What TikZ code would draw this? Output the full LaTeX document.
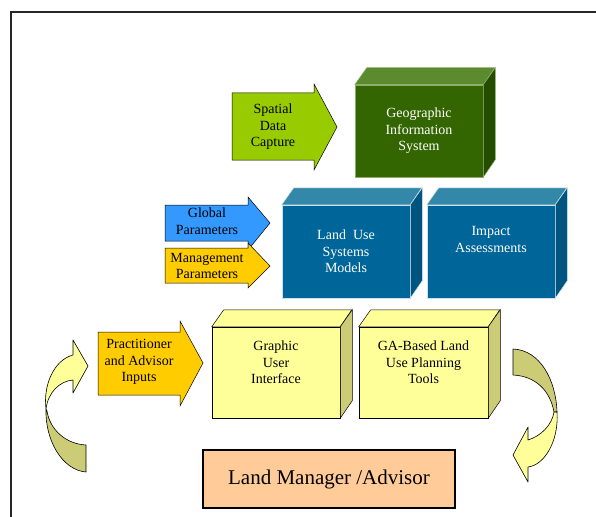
\documentclass[tikz,border=0pt]{standalone}
\usepackage{fontspec}
\setmainfont{Liberation Serif}
\definecolor{gArrow}{HTML}{99CC00}
\definecolor{gFront}{HTML}{336600}
\definecolor{gTop}{HTML}{5C8A2E}
\definecolor{gSide}{HTML}{254D00}
\definecolor{bFront}{HTML}{006699}
\definecolor{bTop}{HTML}{3388AA}
\definecolor{bSide}{HTML}{005580}
\definecolor{yFront}{HTML}{FFFF99}
\definecolor{ySide}{HTML}{CCCC77}
\definecolor{gblArrow}{HTML}{3399FF}
\definecolor{oArrow}{HTML}{FFCC00}
\definecolor{peach}{HTML}{FFCC99}
\tikzset{
  lbl/.style={align=center, font=\fontsize{14}{16.5}\selectfont, inner sep=0pt},
  blockarrow/.style={draw=black, line width=0.5pt, line join=miter},
  gF/.style={fill=gFront, draw=gTop!70!white, line width=0.5pt, text=white},
  gT/.style={fill=gTop, draw=gTop!70!white, line width=0.5pt},
  gS/.style={fill=gSide, draw=gTop!70!white, line width=0.5pt},
  bF/.style={fill=bFront, draw=white!80!bFront, line width=0.5pt, text=white},
  bT/.style={fill=bTop, draw=white!80!bFront, line width=0.5pt},
  bS/.style={fill=bSide, draw=white!80!bFront, line width=0.5pt},
  yF/.style={fill=yFront, draw=black, line width=0.5pt, text=black},
  yT/.style={fill=yFront, draw=black, line width=0.5pt},
  yS/.style={fill=ySide, draw=black, line width=0.5pt},
  curvearrow/.style={draw=black, line width=0.6pt, line join=round},
}
% #1 name, #2 centre, #3 width, #4 height, #5 colour family, #6 text
\newcommand{\cubebox}[6]{%
  \node[#5F, lbl, minimum width=#3pt, minimum height=#4pt] (#1) at #2 {#6};
  \path[#5T] (#1.north west) -- ++(12,-17) -- ++(#3,0) -- (#1.north east) -- cycle;
  \path[#5S] (#1.north east) -- ++(12,-17) -- ++(0,#4) -- (#1.south east) -- cycle;
  \path[draw=none] (#1.north west) rectangle (#1.south east);
}
\begin{document}
\begin{tikzpicture}[x=1pt,y=-1pt]
\useasboundingbox (0,0) rectangle (596,516);
\begin{scope}
  \clip (0,0) rectangle (596,516);
  \draw[line width=1.4pt, black!85] (11,530) -- (11,12) -- (610,12);
\end{scope}

% --- top row
\filldraw[blockarrow, fill=gArrow] (232,93) -- (314,93) -- (314,84) -- (337,127)
  -- (314,170) -- (314,160) -- (232,160) -- cycle;
\node[lbl] (sdc) at (273,127) {Spatial\\Data\\Capture};
\cubebox{gis}{(419,131)}{128}{92}{g}{Geographic\\Information\\System}

% --- middle row
\filldraw[blockarrow, fill=gblArrow] (165,205) -- (248,205) -- (248,197) -- (270,223)
  -- (248,250) -- (248,241) -- (165,241) -- cycle;
\node[lbl] (glob) at (207,221) {Global\\Parameters};
\filldraw[blockarrow, fill=oArrow] (165,248) -- (248,248) -- (248,243) -- (270,266)
  -- (248,288) -- (248,283) -- (165,283) -- cycle;
\node[lbl] (mgmt) at (207,266) {Management\\Parameters};
\cubebox{lusm}{(346,251.5)}{128}{93}{b}{Land\ \ Use\\Systems\\Models}
\cubebox{impact}{(491,251.5)}{128}{93}{b}{Impact\\Assessments\\[8pt]}

% --- bottom row
\filldraw[blockarrow, fill=oArrow] (98,332) -- (180,332) -- (180,321) -- (203,363)
  -- (180,406) -- (180,395) -- (98,395) -- cycle;
\node[lbl] (prac) at (139,362) {Practitioner\\and Advisor\\Inputs};
\cubebox{gui}{(276,372.5)}{128}{91}{y}{Graphic\\User\\Interface\\[4pt]}
\cubebox{ga}{(423.5,372.5)}{129}{91}{y}{GA-Based Land\\Use Planning\\Tools\\[4pt]}

% --- land manager
\node[draw=black, line width=1.3pt, fill=peach, minimum width=252pt, minimum height=58pt,
      font=\fontsize{21}{24}\selectfont, inner sep=0pt] (lm) at (329,479) {Land Manager /Advisor};

% --- left curved arrow
\filldraw[curvearrow, fill=ySide] (46,409) .. controls (45,440) and (62,470) .. (86,472)
  -- (86,445) .. controls (66,444) and (50,430) .. (47,411) -- cycle;
\filldraw[curvearrow, fill=yFront] (73,355) -- (73,340) -- (88,366) -- (73,393) -- (73,380)
  .. controls (60,381) and (48,392) .. (46,409)
  .. controls (43,385) and (54,360) .. (73,355) -- cycle;

% --- right curved arrow
\filldraw[curvearrow, fill=ySide] (513,349) .. controls (540,350) and (556,380) .. (557,412)
  -- (554,412) .. controls (550,390) and (535,376) .. (513,375) -- cycle;
\filldraw[curvearrow, fill=yFront] (557,412) .. controls (559,440) and (545,465) .. (528,467)
  -- (528,482) -- (513,455) -- (528,427) -- (528,440)
  .. controls (541,436) and (552,425) .. (554,412) -- cycle;
\end{tikzpicture}
\end{document}
